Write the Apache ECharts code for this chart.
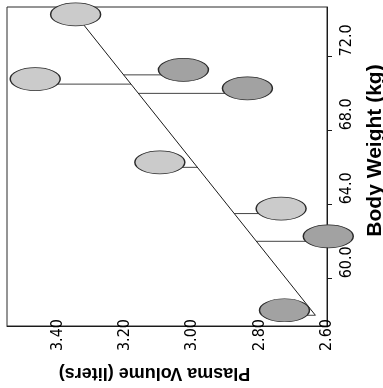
<!DOCTYPE html>
<html>
<head>
<meta charset="utf-8">
<script src="https://cdn.jsdelivr.net/npm/echarts@6/dist/echarts.min.js"></script>
<style>
  html, body { margin: 0; padding: 0; background: #ffffff; }
  #chart { width: 383px; height: 388px; }
</style>
</head>
<body>
<div id="chart"></div>
<script>
// Plasma volume against body weight for eight subjects
const weightKg  = [58.0, 70.0, 74.0, 63.5, 62.0, 70.5, 71.0, 66.0];
const plasmaL   = [2.75, 2.86, 3.37, 2.76, 2.62, 3.49, 3.05, 3.12];
const shadeGroup = ['B', 'B', 'A', 'A', 'B', 'A', 'B', 'A'];

// Fitted straight line, plasma = a + b * weight
const fitIntercept = 0.094;
const fitSlope = 0.0438;
const fitRange = [58.0, 74.0];

const weightTicks = [60, 64, 68, 72];
const plasmaTicks = [2.6, 2.8, 3.0, 3.2, 3.4];

const fit = w => fitIntercept + fitSlope * w;

const shadeFill = { A: '#cbcbcb', B: '#a2a2a2' };

const points = weightKg.map((w, i) => ({
  value: [plasmaL[i], w],
  itemStyle: { color: shadeFill[shadeGroup[i]] }
}));
const residuals = weightKg.map((w, i) => [plasmaL[i], fit(w), w]);
const fitLine = fitRange.map(w => [fit(w), w]);

const tickFont = "'Liberation Sans Narrow', 'Arial Narrow', 'DejaVu Sans Condensed', 'Liberation Sans', Arial, sans-serif";
const titleFont = "'Liberation Sans', Arial, sans-serif";

const chart = echarts.init(document.getElementById('chart'), null, { renderer: 'canvas' });
chart.setOption({
  animation: false,
  backgroundColor: '#ffffff',
  grid: {
    left: 7, right: 56, top: 7, bottom: 62,
    show: true, borderColor: '#2a2a2a', borderWidth: 1,
    containLabel: false, outerBoundsMode: 'none'
  },
  xAxis: {
    type: 'value', inverse: true, min: 2.60, max: 3.55, position: 'bottom',
    name: 'Plasma Volume (liters)', nameLocation: 'middle', nameRotate: 180, nameGap: 38,
    nameTextStyle: { fontFamily: titleFont, fontWeight: 'bold', fontSize: 18, color: '#000', padding: [0, 0, 0, 25] },
    axisLine: { show: true, lineStyle: { color: '#1a1a1a', width: 1 } },
    axisTick: { show: false },
    splitLine: { show: false },
    axisLabel: {
      customValues: plasmaTicks, rotate: 90, margin: -7,
      formatter: v => v.toFixed(2),
      fontFamily: tickFont, fontSize: 16, color: '#000'
    }
  },
  yAxis: {
    type: 'value', min: 57.42, max: 74.67, position: 'right',
    name: 'Body Weight (kg)', nameLocation: 'middle', nameRotate: 90, nameGap: 38,
    nameTextStyle: { fontFamily: titleFont, fontWeight: 'bold', fontSize: 21, color: '#000', padding: [0, 0, 0, 32] },
    axisLine: { show: true, lineStyle: { color: '#1a1a1a', width: 1 } },
    axisTick: { show: true, customValues: weightTicks, length: 5, lineStyle: { color: '#1a1a1a' } },
    splitLine: { show: false },
    axisLabel: {
      customValues: weightTicks, rotate: 90, margin: 12, align: 'left',
      formatter: v => v.toFixed(1),
      fontFamily: tickFont, fontSize: 16, color: '#000'
    }
  },
  series: [
    {
      type: 'line', data: fitLine, symbol: 'none', silent: true, z: 2,
      lineStyle: { color: '#1a1a1a', width: 1 }
    },
    {
      type: 'custom', data: residuals, silent: true, z: 2,
      encode: { x: [0, 1], y: 2 },
      renderItem: (params, api) => {
        const p0 = api.coord([api.value(0), api.value(2)]);
        const p1 = api.coord([api.value(1), api.value(2)]);
        return {
          type: 'line',
          shape: { x1: p0[0], y1: p0[1], x2: p1[0], y2: p1[1] },
          style: { stroke: '#444', lineWidth: 1 }
        };
      }
    },
    {
      type: 'scatter', data: points, z: 3,
      symbol: 'circle', symbolSize: [50, 23], symbolOffset: [8, -5],
      itemStyle: { borderColor: '#2a2a2a', borderWidth: 1, opacity: 1 }
    }
  ]
});
</script>
</body>
</html>
